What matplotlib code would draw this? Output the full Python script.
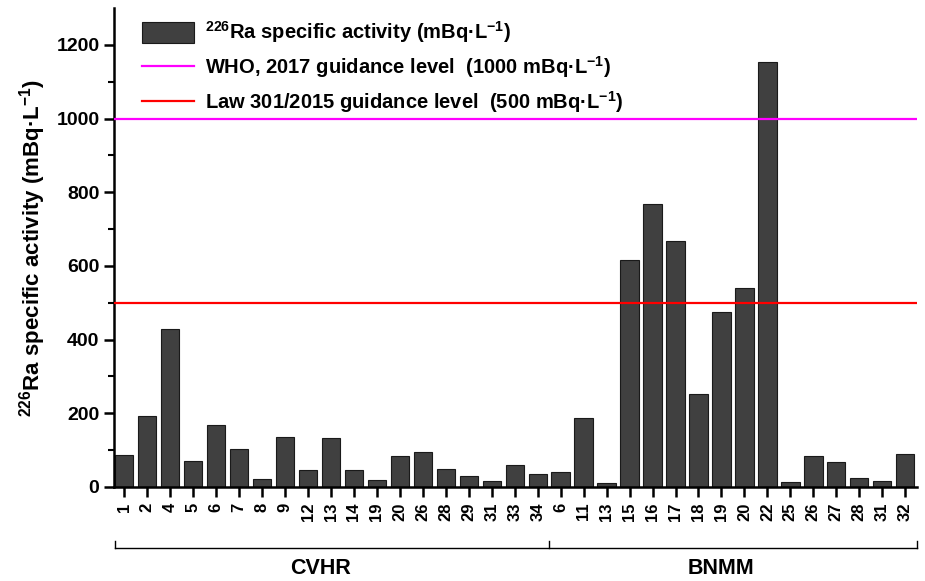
import matplotlib
matplotlib.use("Agg")
import matplotlib.pyplot as plt
from matplotlib.lines import Line2D
from matplotlib.patches import Patch
import matplotlib.transforms as mtransforms

# --- data ---
cvhr_sites = ["1", "2", "4", "5", "6", "7", "8", "9", "12", "13", "14",
              "19", "20", "26", "28", "29", "31", "33", "34"]
cvhr_values = [87, 192, 428, 70, 168, 104, 22, 135, 46, 134, 45,
               19, 84, 95, 50, 29, 16, 60, 35]
bnmm_sites = ["6", "11", "13", "15", "16", "17", "18", "19", "20", "22",
              "25", "26", "27", "28", "31", "32"]
bnmm_values = [42, 187, 12, 615, 769, 669, 253, 475, 540, 1153,
               13, 85, 68, 24, 15, 90]
group_names = ["CVHR", "BNMM"]
who_level = 1000
law_level = 500

plt.rcParams["font.family"] = ["Liberation Sans", "DejaVu Sans"]
plt.rcParams["font.weight"] = "bold"
plt.rcParams["mathtext.fontset"] = "custom"
plt.rcParams["mathtext.rm"] = "Liberation Sans:bold"
plt.rcParams["mathtext.bf"] = "Liberation Sans:bold"
plt.rcParams["mathtext.default"] = "bf"

labels = cvhr_sites + bnmm_sites
values = cvhr_values + bnmm_values
x = list(range(len(values)))
n_cvhr = len(cvhr_sites)

fig = plt.figure(figsize=(9.25, 5.81), dpi=100)
ax = fig.add_axes([0.1232, 0.1618, 0.8678, 0.8242])

ax.bar(x, values, width=0.8, color="#404040", edgecolor="#1a1a1a", linewidth=0.8, zorder=2)
ax.axhline(who_level, color="#ff00ff", linewidth=1.6, zorder=3)
ax.axhline(law_level, color="#ff0000", linewidth=1.6, zorder=3)

ax.set_xlim(-0.45, len(values) - 0.5)
ax.set_ylim(0, 1300)
ax.set_yticks(range(0, 1201, 200))
ax.set_yticks(range(100, 1300, 200), minor=True)
ax.set_xticks(x)
ax.set_xticklabels(labels, rotation=90, fontsize=12, fontweight="bold")
for lab in ax.get_yticklabels():
    lab.set_fontsize(14)
    lab.set_fontweight("bold")

for side in ("top", "right"):
    ax.spines[side].set_visible(False)
for side in ("left", "bottom"):
    ax.spines[side].set_linewidth(1.8)
ax.tick_params(axis="both", which="major", direction="out", length=7, width=1.8)
ax.tick_params(axis="y", which="minor", direction="out", length=4, width=1.5)
ax.tick_params(axis="x", pad=4)

ax.set_ylabel(r"$^{226}$Ra specific activity (mBq·L$^{-1}$)", fontsize=16,
              fontweight="bold", labelpad=6)

# group brackets under the tick labels
trans = mtransforms.blended_transform_factory(ax.transData, ax.transAxes)
y_br = -0.128
edges = [-0.4, n_cvhr - 0.5, len(values) - 0.5]
ax.plot([edges[0], edges[-1]], [y_br, y_br], color="black", lw=1.0,
        transform=trans, clip_on=False)
for e in edges:
    ax.plot([e, e], [y_br, y_br + 0.016], color="black", lw=1.0,
            transform=trans, clip_on=False)
for name, lo, hi in zip(group_names, edges[:-1], edges[1:]):
    ax.text((lo + hi) / 2 - 0.5, -0.148, name, transform=trans, ha="center", va="top",
            fontsize=15.5, fontweight="bold")

handles = [
    Patch(facecolor="#404040", edgecolor="#1a1a1a", linewidth=0.8),
    Line2D([], [], color="#ff00ff", lw=1.6),
    Line2D([], [], color="#ff0000", lw=1.6),
]
legend_labels = [
    r"$^{226}$Ra specific activity (mBq·L$^{-1}$)",
    r"WHO, 2017 guidance level  (1000 mBq·L$^{-1}$)",
    r"Law 301/2015 guidance level  (500 mBq·L$^{-1}$)",
]
ax.legend(handles, legend_labels, loc="upper left", bbox_to_anchor=(0.015, 1.01),
          frameon=False, prop={"size": 14.5, "weight": "bold"},
          handlelength=2.6, handleheight=1.2, handletextpad=0.5,
          labelspacing=0.45, borderaxespad=0.4)

fig.savefig("out.png", dpi=100)
